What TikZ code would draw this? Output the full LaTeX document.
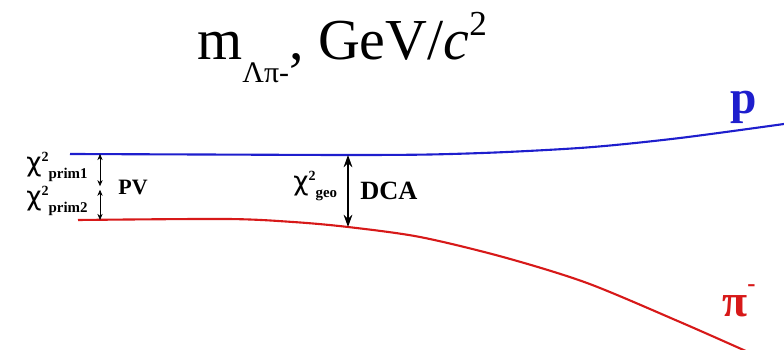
\documentclass[tikz,border=0pt]{standalone}
\usepackage{fontspec}
\setmainfont{Liberation Serif}
\newfontfamily\chifont{DejaVu Sans}
\usepackage{xcolor}
\usetikzlibrary{arrows.meta,positioning}
\definecolor{trackblue}{RGB}{30,30,205}
\definecolor{trackred}{RGB}{215,25,25}
\newcommand{\chilab}[1]{{\chifont\fontsize{15}{15}\selectfont χ}\raisebox{6pt}{\fontsize{8}{8}\selectfont\bfseries 2}\raisebox{-3.5pt}{\fontsize{8.5}{9}\selectfont\bfseries #1}}

\begin{document}
\begin{tikzpicture}[>=Stealth, x=0.02cm, y=-0.02cm,
  track/.style={line width=1.2pt},
  smallgap/.style={<->, thin, >={Stealth[length=3.5pt,width=3pt]}},
  biggap/.style={<->, line width=0.9pt, >={Stealth[length=7pt,width=5pt]}},
  lab/.style={inner sep=0pt, anchor=base west}]
  \useasboundingbox (0,0) rectangle (784,350);
  \node[lab, font=\fontsize{33}{36}\selectfont] (title) at (197,60)
    {m\raisebox{-0.38em}{\fontsize{17}{17}\selectfont Λπ-}, GeV/\textit{c}\raisebox{0.43em}{\fontsize{20}{20}\selectfont 2}};
  \draw[track, trackblue] plot[smooth] coordinates
    {(70,154) (200,154.5) (348,155) (430,154.5) (507,152) (593,147) (680,138) (784,124)};
  \draw[track, trackred] plot[smooth] coordinates
    {(78,220) (227,219) (293,222) (348,227) (420,237) (503,257) (587,283) (680,322) (748,352)};
  \node[lab, font=\fontsize{27}{27}\selectfont\bfseries, text=trackblue] (p) at (730,114) {p};
  \node[lab, font=\fontsize{26}{26}\selectfont\bfseries, text=trackred] (pim) at (722,317)
    {π\raisebox{0.55em}{\fontsize{14}{14}\selectfont -}};
  \coordinate (pv top) at (100,154);
  \coordinate (pv mid) at (100,188);
  \coordinate (pv bot) at (100,220);
  \draw[smallgap] (pv top) -- ([yshift=1pt]pv mid);
  \draw[smallgap] ([yshift=-1pt]pv mid) -- (pv bot);
  \node[lab] (chi1) at (26,172) {\chilab{prim1}};
  \node[lab] (chi2) at (26,206) {\chilab{prim2}};
  \node[lab, font=\fontsize{12.5}{13}\selectfont\bfseries] (pv) at (118,195) {PV};
  \coordinate (dca top) at (348,155);
  \coordinate (dca bot) at (348,227);
  \draw[biggap] (dca top) -- (dca bot);
  \node[lab] (chigeo) at (293,191) {\chilab{geo}};
  \node[lab, font=\fontsize{15}{15}\selectfont\bfseries] (dca) at (360,200) {DCA};
\end{tikzpicture}
\end{document}
